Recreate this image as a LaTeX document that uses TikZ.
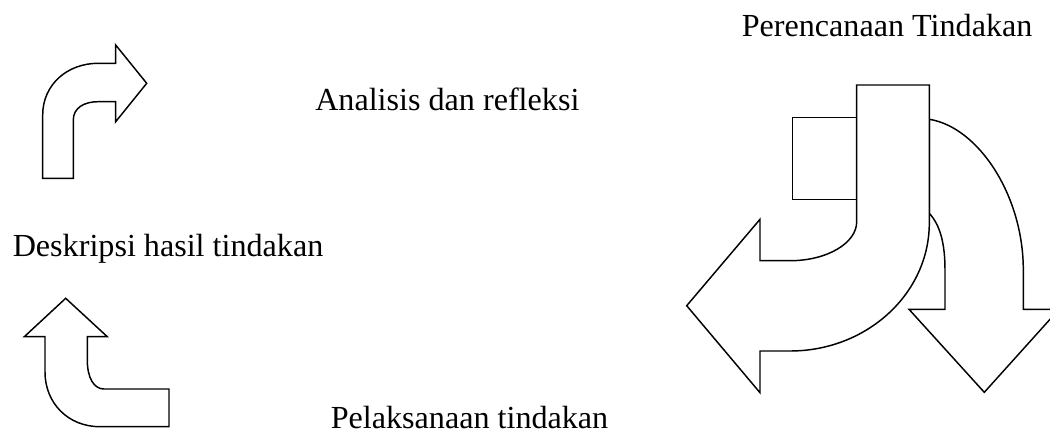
\documentclass[tikz,border=0pt]{standalone}
\usepackage{fontspec}
\setmainfont{Liberation Serif}
\usepackage{tikz}

\begin{document}
\begin{tikzpicture}[x=0.75pt,y=-0.75pt,
	teks/.style={anchor=base west,inner sep=0pt,font=\fontsize{24.1}{29}\selectfont},
	panah/.style={draw=black,fill=white,line width=1.1pt,line join=miter}]
	% Rahmen
	\useasboundingbox (0,0) rectangle (1050,433);
	\clip (0,0) rectangle (1050,433);
	% Beschriftungen
	\node[teks] (plan) at (741.5,36.7) {Perencanaan Tindakan};
	\node[teks] (analisis) at (315,110) {Analisis dan refleksi};
	\node[teks] (deskripsi) at (12.5,256.7) {Deskripsi hasil tindakan};
	\node[teks] (pelaksanaan) at (330.5,428.3) {Pelaksanaan tindakan};
	% Pfeil oben links
	\draw[panah] (42.7,178.3) -- (42.7,115) .. controls (42.7,84) and (68,63.3) .. (98,63.3) -- (115.7,63.3) -- (115.7,45) -- (146.7,83.3) -- (115.7,121.7) -- (115.7,101.7) -- (98,101.7) .. controls (84,101.7) and (73.3,108) .. (73.3,120) -- (73.3,178.3) -- cycle;
	% Pfeil unten links
	\draw[panah] (65.7,298.3) -- (107.3,336.7) -- (87.3,336.7) -- (87.3,360) .. controls (87.3,378) and (94,389) .. (104,389) -- (169,389) -- (169,426.7) -- (100,426.7) .. controls (68,426.7) and (45,403) .. (45,372) -- (45,336.7) -- (24.3,336.7) -- cycle;
	% Pfeil nach unten (hinten)
	\draw[panah] (929.3,119.3) .. controls (978,127) and (1023.3,195) .. (1023.3,270) -- (1023.3,309.3) -- (1059,309.3) -- (984.3,392.3) -- (909,309.3) -- (945,309.3) -- (945,270) .. controls (945,243) and (940,225) .. (929.3,213.3) -- cycle;
	% Quadrat
	\draw[panah] (792.3,117.3) rectangle (856.7,199.3);
	% Schaft mit Pfeil nach links
	\draw[panah] (856.7,85) -- (929.3,85) -- (929.3,223) .. controls (929.3,293.7) and (866.8,351) .. (790,351) -- (760,351) -- (760,392.7) -- (686.7,305.7) -- (760,219.3) -- (760,260.7) -- (790,260.7) .. controls (826.8,260.7) and (856.7,243.2) .. (856.7,221.7) -- cycle;
\end{tikzpicture}
\end{document}
